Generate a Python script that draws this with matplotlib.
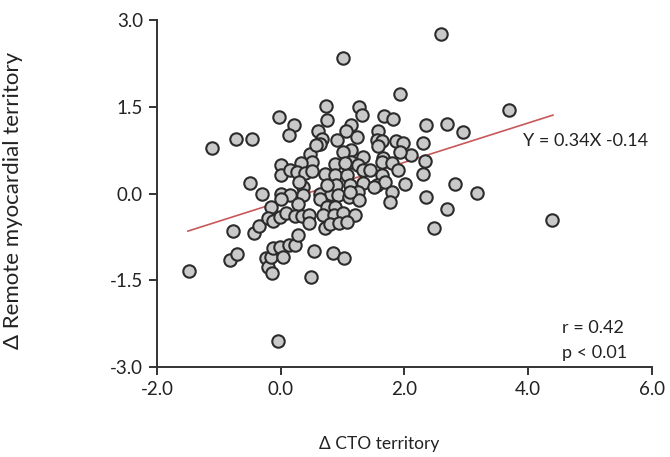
import numpy as np
import matplotlib
matplotlib.use("Agg")
import matplotlib.pyplot as plt

plt.rcParams['font.family'] = ['Lato', 'DejaVu Sans']

# delta CTO territory (x) and delta remote myocardial territory (y)
cto_x = [-1.49, -1.11, -0.72, -0.46, -0.77, -0.82, -0.71, -0.49, -0.30, -0.43,
         -0.35, -0.05, 1.00, 2.59, 3.69, 4.38, 3.18, 2.82, 2.68, 2.48,
         2.35, 2.94, 2.69, 2.35, 1.92, 2.30, 2.33, 2.30, 2.11, 2.01,
         0.49, 0.53, 0.84, 1.03, -0.24, -0.20, -0.14, -0.15, -0.12, -0.01,
         0.03, 0.14, 0.23, 0.28, -0.02, 0.21, 0.14, 0.73, 0.74, 1.26,
         1.31, 1.67, 1.81, 1.14, 1.05, 1.23, 0.61, 0.67, 0.63, 0.91,
         1.57, 1.56, 1.63, 1.57, 1.86, 1.97, 1.92, 1.14, 1.01, 1.33,
         1.66, 1.14, 0.47, 0.50, 0.33, 0.01, 0.01, 0.15, 0.27, 0.39,
         0.51, 0.72, 0.88, 0.88, 1.07, 1.25, 1.33, 1.44, 1.64, 1.80,
         1.89, 1.64, 0.01, 0.15, 0.36, 0.36, 0.63, 0.82, 0.90, 1.12,
         1.33, 1.55, 1.68, 1.80, 1.25, 1.76, 0.01, 0.28, 0.63, 0.74,
         0.74, 0.93, 0.88, 1.11, 1.27, -0.15, -0.20, -0.13, -0.01, 0.08,
         0.23, 0.34, 0.45, 0.46, 0.69, 0.71, 0.86, 0.80, 1.01, 0.94,
         1.20, 1.50, 1.12, 0.29, 1.04, 1.07, 0.57]
remote_y = [-1.34, 0.79, 0.94, 0.94, -0.64, -1.15, -1.05, 0.18, -0.01, -0.69,
            -0.57, -2.55, 2.34, 2.75, 1.44, -0.45, 0.01, 0.16, -0.27, -0.59,
            -0.06, 1.07, 1.21, 1.18, 1.72, 0.88, 0.56, 0.34, 0.66, 0.16,
            -1.45, -0.99, -1.02, -1.12, -1.12, -1.27, -1.38, -1.10, -0.95, -0.93,
            -1.10, -0.89, -0.89, -0.72, 1.33, 1.18, 1.02, 1.51, 1.27, 1.50,
            1.36, 1.34, 1.28, 1.18, 1.08, 0.98, 1.08, 0.95, 0.86, 0.92,
            1.08, 0.92, 0.90, 0.82, 0.90, 0.88, 0.72, 0.76, 0.72, 0.63,
            0.61, 0.55, 0.68, 0.55, 0.52, 0.50, 0.32, 0.41, 0.38, 0.35,
            0.39, 0.34, 0.51, 0.32, 0.32, 0.49, 0.41, 0.41, 0.55, 0.53,
            0.41, 0.32, 0.00, -0.03, 0.12, -0.03, 0.00, 0.00, 0.15, 0.15,
            0.19, 0.15, 0.20, 0.03, 0.03, -0.14, -0.10, -0.18, -0.10, -0.23,
            0.15, -0.03, -0.23, -0.06, -0.11, -0.24, -0.43, -0.47, -0.40, -0.34,
            -0.39, -0.39, -0.37, -0.51, -0.37, -0.60, -0.37, -0.52, -0.33, -0.51,
            -0.37, 0.12, 0.03, 0.20, 0.52, -0.49, 0.84]

slope = 0.34
intercept = -0.14
fit_range = [-1.5, 4.4]
r_value = 0.42

fig = plt.figure(figsize=(6.7, 4.57), dpi=100)
ax = fig.add_axes([0.2343, 0.1969, 0.7388, 0.7593])

ax.scatter(cto_x, remote_y, s=80, facecolor='#c9c9c9', edgecolor='#2b2b2b',
           linewidth=1.5, zorder=3)

fx = np.array(fit_range)
ax.plot(fx, slope * fx + intercept, color='#c8585a', linewidth=1.2, zorder=2)

ax.set_xlim(-2, 6)
ax.set_ylim(-3, 3)
ax.set_xticks([-2, 0, 2, 4, 6])
ax.set_yticks([-3, -1.5, 0, 1.5, 3])
ax.set_xticklabels(['-2.0', '0.0', '2.0', '4.0', '6.0'])
ax.set_yticklabels(['-3.0', '-1.5', '0.0', '1.5', '3.0'])

for side in ['top', 'right']:
    ax.spines[side].set_visible(False)
for side in ['left', 'bottom']:
    ax.spines[side].set_color('#333333')
    ax.spines[side].set_linewidth(1.4)
ax.tick_params(direction='out', length=6, width=1.4, color='#333333',
               labelsize=13.5, labelcolor='#222222', pad=4)

ax.set_xlabel('\u0394 CTO territory', fontsize=12.5, color='#222222')
ax.set_ylabel('\u0394 Remote myocardial territory', fontsize=16,
              color='#222222')
ax.xaxis.set_label_coords(0.448, -0.2)
ax.yaxis.set_label_coords(-0.27, 0.48)

ax.text(3.92, 0.91, 'Y = %.2fX %.2f' % (slope, intercept), fontsize=13,
        color='#222222', va='center', ha='left')
ax.text(4.55, -2.33, 'r = %.2f' % r_value, fontsize=13, color='#222222',
        va='center', ha='left')
ax.text(4.55, -2.76, 'p < 0.01', fontsize=13, color='#222222',
        va='center', ha='left')

fig.savefig('out.png', dpi=100)
